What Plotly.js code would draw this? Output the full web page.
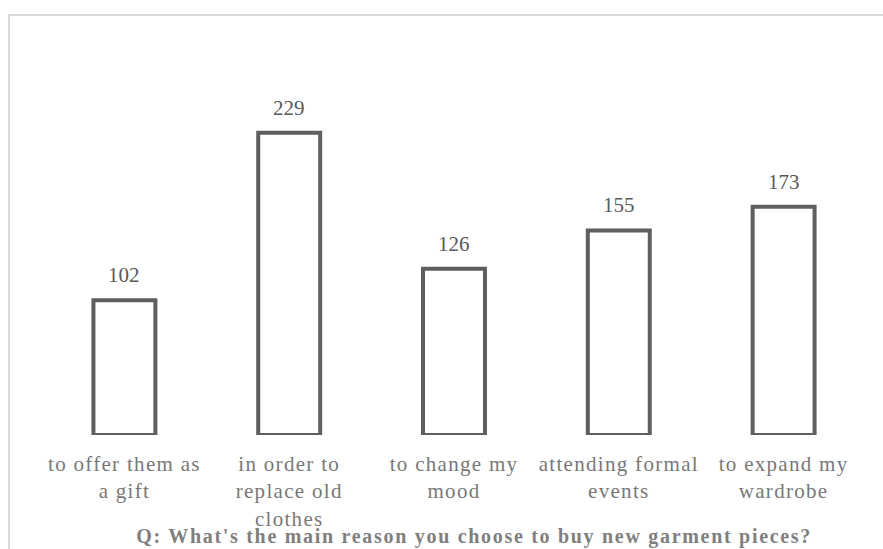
<!DOCTYPE html>
<html>
<head>
<meta charset="utf-8">
<script src="https://cdn.plot.ly/plotly-3.0.1.min.js"></script>
<style>
  html, body { margin: 0; padding: 0; background: #ffffff; overflow: hidden; }
  #chart { width: 883px; height: 549px; position: absolute; left: 0; top: 0; }
  #frame {
    position: absolute; left: 8px; top: 14px; width: 1000px; height: 1000px;
    border-left: 2px solid #d9d9d9; border-top: 2px solid #d9d9d9;
    pointer-events: none; z-index: 5;
  }
  /* slightly airier serif lettering for category labels and the question */
  #chart .xtick text { letter-spacing: 1.3px; }
  #chart .gtitle { letter-spacing: 1.7px; }
</style>
</head>
<body>
<div id="chart"></div>
<div id="frame"></div>
<script>
// Reasons for buying new garment pieces (number of respondents)
const categories = [
  "to offer them as<br>a gift",
  "in order to<br>replace old<br>clothes",
  "to change my<br>mood",
  "attending formal<br>events",
  "to expand my<br>wardrobe"
];
const counts = [102, 229, 126, 155, 173];
const chartTitle = "Q: What's the main reason you choose to buy new garment pieces?";

const serif = "Liberation Serif, Times New Roman, serif";

const trace = {
  type: "bar",
  x: categories,
  y: counts,
  width: 0.376,
  marker: { color: "#ffffff", line: { color: "#5f5f5f", width: 4 } },
  hoverinfo: "x+y"
};

// value labels placed above each bar
const valueLabels = categories.map((c, i) => ({
  x: c, y: counts[i], xref: "x", yref: "y",
  text: String(counts[i]), showarrow: false,
  yanchor: "middle", yshift: 25,
  font: { family: serif, size: 21, color: "#595959" }
}));

const layout = {
  width: 883, height: 549,
  margin: { l: 42, r: 17, t: 105, b: 114 },
  paper_bgcolor: "rgba(0,0,0,0)",
  plot_bgcolor: "rgba(0,0,0,0)",
  showlegend: false,
  title: {
    text: "<b>" + chartTitle + "</b>",
    xref: "container", yref: "container",
    x: 0.537, xanchor: "center", y: 0.024, yanchor: "middle",
    font: { family: serif, size: 20, color: "#7f7f7f" }
  },
  xaxis: {
    showline: false, showgrid: false, zeroline: false, ticks: "",
    ticklabelstandoff: 14,
    tickfont: { family: serif, size: 21, color: "#787878" }
  },
  yaxis: { visible: false, range: [0, 250] },
  annotations: valueLabels
};

Plotly.newPlot("chart", [trace], layout, { displayModeBar: false, staticPlot: true });
</script>
</body>
</html>
